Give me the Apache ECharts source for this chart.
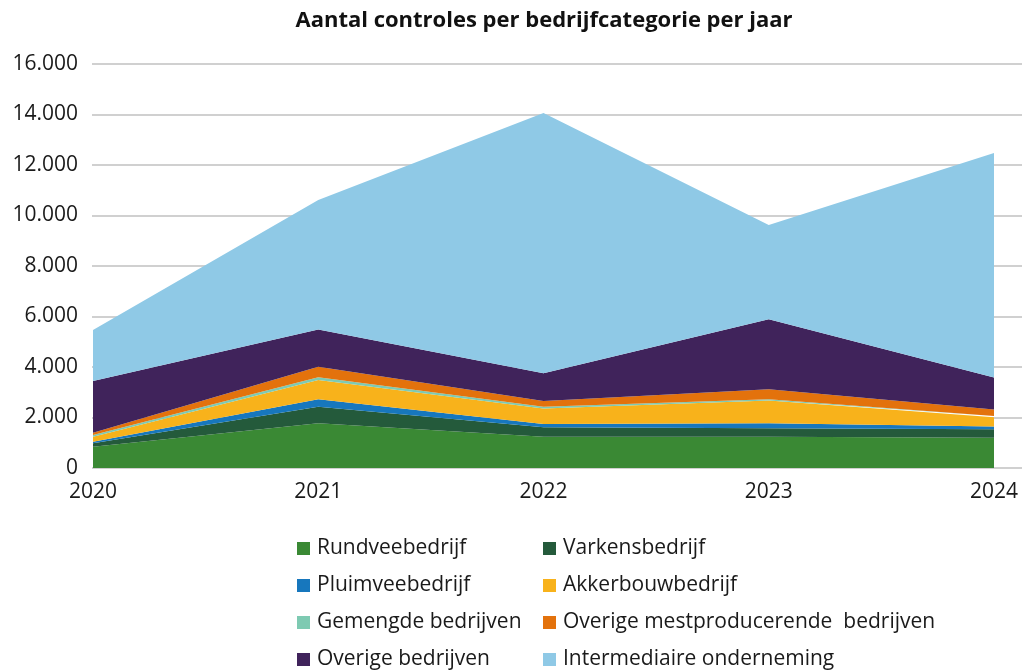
<!DOCTYPE html>
<html>
<head>
<meta charset="utf-8">
<script src="https://cdn.jsdelivr.net/npm/echarts@6/dist/echarts.min.js"></script>
<style>html,body{margin:0;padding:0;background:#fff}#c{width:1027px;height:672px}</style>
</head>
<body>
<div id="c"></div>
<script>
const years = ['2020', '2021', '2022', '2023', '2024'];
const rundvee = [845, 1770, 1240, 1240, 1200];
const varkens = [135, 660, 370, 330, 330];
const pluimvee = [60, 290, 130, 200, 110];
const akkerbouw = [200, 770, 620, 900, 370];
const gemengde = [70, 100, 70, 50, 50];
const overigeMest = [90, 420, 220, 400, 260];
const overigeBedrijven = [2050, 1480, 1100, 2770, 1260];
const intermediaire = [2020, 5120, 10310, 3730, 8900];

const names = ['Rundveebedrijf','Varkensbedrijf','Pluimveebedrijf','Akkerbouwbedrijf','Gemengde bedrijven','Overige mestproducerende  bedrijven','Overige bedrijven','Intermediaire onderneming'];
const values = [rundvee, varkens, pluimvee, akkerbouw, gemengde, overigeMest, overigeBedrijven, intermediaire];
const colors = ['#3a8934','#245a3b','#1777bd','#f8b21b','#7ecab2','#e3720c','#40235b','#8fc9e6'];

const FONT = 'Open Sans';
const chart = echarts.init(document.getElementById('c'));
const series = names.map((n, i) => ({
  name: n,
  type: 'line',
  stack: 'total',
  symbol: 'none',
  xAxisIndex: 0, yAxisIndex: 0,
  lineStyle: { width: 0 },
  areaStyle: { color: colors[i], opacity: 1 },
  itemStyle: { color: colors[i] },
  z: 3,
  data: values[i]
}));

const legendCommon = {
  orient: 'vertical',
  icon: 'rect',
  itemWidth: 13,
  itemHeight: 13,
  itemGap: 16,
  padding: 0,
  textStyle: { fontFamily: FONT, fontSize: 21, lineHeight: 21, color: '#1a1a1a', padding: [0,0,0,2] },
  top: 538
};

chart.setOption({
  animation: false,
  title: {
    text: 'Aantal controles per bedrijfcategorie per jaar',
    left: 539, textAlign: 'center', top: 5,
    textStyle: { fontFamily: FONT, fontSize: 22, fontWeight: 'bold', color: '#111' }
  },
  legend: [
    Object.assign({}, legendCommon, { left: 297, data: [names[0], names[2], names[4], names[6]] }),
    Object.assign({}, legendCommon, { left: 543, data: [names[1], names[3], names[5], names[7]] })
  ],
  grid: [
    { left: 93, right: 33, top: 64, bottom: 204, containLabel: false },
    { left: 92, right: 5, top: 64, bottom: 204, containLabel: false }
  ],
  xAxis: [
    {
      type: 'category', gridIndex: 0, data: years, boundaryGap: false,
      axisLine: { show: false }, axisTick: { show: false }, splitLine: { show: false },
      axisLabel: { fontFamily: FONT, fontSize: 21, color: '#1a1a1a', margin: 14 }
    },
    {
      type: 'value', gridIndex: 1, show: false, min: 0, max: 1
    }
  ],
  yAxis: [
    {
      type: 'value', gridIndex: 0, min: 0, max: 16000, interval: 2000,
      axisLine: { show: false }, axisTick: { show: false }, splitLine: { show: false },
      axisLabel: {
        formatter: v => v.toLocaleString('nl-NL'),
        fontFamily: FONT, fontSize: 21, color: '#1a1a1a', margin: 15
      }
    },
    {
      type: 'value', gridIndex: 1, min: 0, max: 16000, interval: 2000,
      axisLine: { show: false }, axisTick: { show: false }, axisLabel: { show: false },
      splitLine: { lineStyle: { color: '#c0c0c0', width: 1.5 } }
    }
  ],
  series: series
});
</script>
</body>
</html>
